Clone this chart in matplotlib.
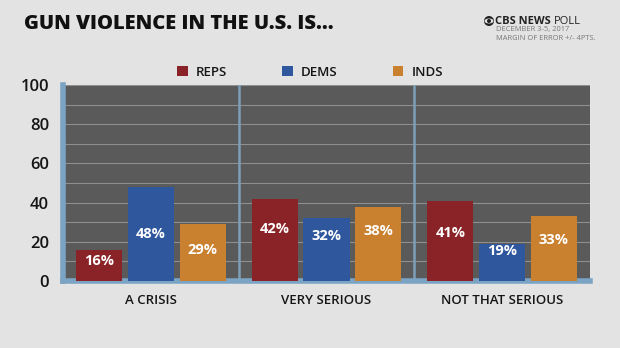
import matplotlib.pyplot as plt
from matplotlib.patches import Ellipse
import numpy as np

categories = ['A CRISIS', 'VERY SERIOUS', 'NOT THAT SERIOUS']
groups = ['REPS', 'DEMS', 'INDS']
reps = [16, 42, 41]
dems = [48, 32, 19]
inds = [29, 38, 33]
yticks = [0, 20, 40, 60, 80, 100]

colors = ['#8a2327', '#2f579e', '#c9802f']
# where the percentage labels sit inside each bar (data units)
label_y = [[10.3, 26.7, 24.6], [24.0, 23.0, 15.4], [15.9, 25.6, 20.9]]

plt.rcParams['font.family'] = ['Open Sans', 'DejaVu Sans']

fig = plt.figure(figsize=(6.2, 3.48), dpi=100)
fig.patch.set_facecolor('#e3e3e3')
ax = fig.add_axes([63 / 620, 1 - 281 / 348, 527 / 620, 196 / 348])
ax.set_facecolor('#5a5a5a')

x = np.arange(len(categories))
step = 0.295
width = 0.262
series = [reps, dems, inds]
for i, vals in enumerate(series):
    pos = x + (i - 1) * step
    ax.bar(pos, vals, width, color=colors[i], zorder=3, label=groups[i])
    for p, v, ly in zip(pos, vals, label_y[i]):
        ax.text(p, ly, '{}%'.format(v), color='white', ha='center', va='center',
                fontsize=10.5, fontweight='bold', zorder=4)

ax.set_xlim(-0.5, 2.5)
ax.set_ylim(0, 100)
ax.set_yticks(yticks)
ax.set_yticks(np.arange(0, 101, 10), minor=True)
ax.yaxis.grid(True, which='both', color='#8f8f8f', linewidth=0.8, zorder=1)
for sep in [0.5, 1.5]:
    ax.axvline(sep, color='#7d9fb8', linewidth=1.8, zorder=2)

ax.set_xticks(x)
ax.set_xticklabels(categories, fontsize=9.5, fontweight='semibold', color='#151515')
ax.tick_params(axis='both', which='both', length=0)
ax.tick_params(axis='x', pad=9)
ax.tick_params(axis='y', pad=10)
for t in ax.get_yticklabels():
    t.set_fontsize(12)
    t.set_fontweight('semibold')
    t.set_color('#151515')

for s in ['top', 'right']:
    ax.spines[s].set_visible(False)
for s in ['left', 'bottom']:
    ax.spines[s].set_color('#7ba3c4')
    ax.spines[s].set_linewidth(4)

leg = fig.legend(loc='center', bbox_to_anchor=(0.5, 1 - 72 / 348), ncol=3,
                 frameon=False, handlelength=0.8, handleheight=0.8,
                 handletextpad=0.6, columnspacing=4.2,
                 prop={'weight': 'semibold', 'size': 9.5})
for t in leg.get_texts():
    t.set_color('#151515')

fig.text(24 / 620, 1 - 24 / 348, 'GUN VIOLENCE IN THE U.S. IS...', fontsize=14.5,
         fontweight='extra bold', color='#111111', ha='left', va='center')

# CBS eye logo
ex, ey = 489 / 620, 1 - 21 / 348
fig.patches.append(Ellipse((ex, ey), 10 / 620, 10 / 348, transform=fig.transFigure,
                           facecolor='#222222', edgecolor='none'))
fig.patches.append(Ellipse((ex, ey), 9 / 620, 5 / 348, transform=fig.transFigure,
                           facecolor='#e3e3e3', edgecolor='none'))
fig.patches.append(Ellipse((ex, ey), 4 / 620, 4 / 348, transform=fig.transFigure,
                           facecolor='#222222', edgecolor='none'))
cbs = fig.text(495 / 620, ey, 'CBS NEWS', fontsize=8, fontweight='bold',
               color='#222222', ha='left', va='center')
fig.canvas.draw()
bb = cbs.get_window_extent().transformed(fig.transFigure.inverted())
fig.text(bb.x1 + 3 / 620, ey, 'POLL', fontsize=8, color='#222222',
         ha='left', va='center')
fig.text(496 / 620, 1 - 30 / 348, 'DECEMBER 3-5, 2017', fontsize=5.4,
         color='#777777', ha='left', va='center')
fig.text(496 / 620, 1 - 38 / 348, 'MARGIN OF ERROR +/- 4PTS.', fontsize=5.4,
         color='#777777', ha='left', va='center')

fig.savefig('out.png', dpi=100, facecolor=fig.get_facecolor())
